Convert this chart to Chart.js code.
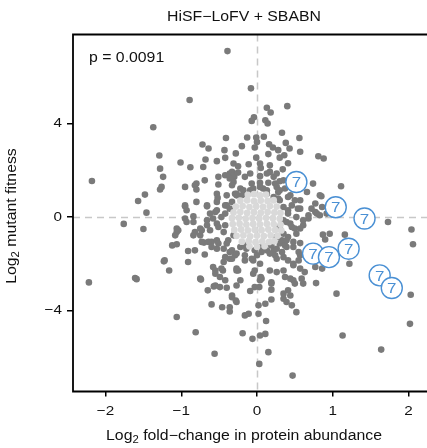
<!DOCTYPE html>
<html><head><meta charset="utf-8">
<script src="https://cdn.jsdelivr.net/npm/chart.js@4/dist/chart.umd.min.js"></script>
<style>html,body{margin:0;padding:0;background:#fff}#wrap{width:427px;height:448px;position:relative}</style>
</head><body><div id="wrap"><canvas id="c" width="427" height="448"></canvas></div>
<script>
const chartTitle = 'HiSF\u2212LoFV + SBABN';
const pText = 'p = 0.0091';
const xTitleMain = ' fold\u2212change in protein abundance';
const yTitleMain = ' mutant fitness';
const xTicks = [-2, -1, 0, 1, 2];
const xTickLabels = ['\u22122', '\u22121', '0', '1', '2'];
const yTicks = [-4, 0, 4];
const yTickLabels = ['\u22124', '0', '4'];
const markerLabel = '7';

// labelled (circled "7") genes
const markerPoints = [[0.52,1.50],[1.04,0.42],[1.42,-0.06],[0.74,-1.56],[0.95,-1.71],[1.21,-1.35],[1.62,-2.49],[1.78,-3.03]];

// non-significant genes (light grey cloud)
const nsPoints = [
[-0.12,0.95],[-0.04,0.98],[0.04,0.93],[0.12,0.96],
[-0.22,0.70],[-0.13,0.72],[-0.04,0.68],[0.05,0.71],[0.14,0.69],[0.22,0.72],
[-0.28,0.45],[-0.19,0.47],[-0.10,0.43],[-0.01,0.46],[0.08,0.44],[0.17,0.47],[0.26,0.45],
[-0.31,0.20],[-0.22,0.22],[-0.13,0.18],[-0.04,0.21],[0.05,0.19],[0.14,0.22],[0.23,0.20],[0.31,0.18],
[-0.33,-0.05],[-0.24,-0.03],[-0.15,-0.07],[-0.06,-0.04],[0.03,-0.06],[0.12,-0.03],[0.21,-0.05],[0.30,-0.07],
[-0.32,-0.30],[-0.23,-0.28],[-0.14,-0.32],[-0.05,-0.29],[0.04,-0.31],[0.13,-0.28],[0.22,-0.30],[0.31,-0.32],
[-0.30,-0.55],[-0.21,-0.53],[-0.12,-0.57],[-0.03,-0.54],[0.06,-0.56],[0.15,-0.53],[0.24,-0.55],[0.32,-0.57],
[-0.27,-0.80],[-0.18,-0.78],[-0.09,-0.82],[0.00,-0.79],[0.09,-0.81],[0.18,-0.78],[0.27,-0.80],
[-0.20,-1.05],[-0.11,-1.03],[-0.02,-1.07],[0.07,-1.04],[0.16,-1.06],[0.23,-1.03],
[-0.10,-1.25],[0.00,-1.27],[0.10,-1.24]
];

// significant genes (dark grey)
const sigPoints = [
[-0.39,7.09],[-0.89,5.0],[-1.37,3.84],[-0.41,3.38],[-0.72,3.10],[-0.64,2.93],[-1.29,2.63],[-0.43,2.86],[-1.01,2.33],[-0.88,2.13],[-0.68,2.46],[-0.71,2.14],[-0.53,2.39],[-0.42,2.53],[-1.28,2.07],[-1.24,1.72],[-2.18,1.54],[-0.51,1.72],[-0.36,1.86],[-0.31,2.29],[-1.28,1.18],[-1.26,1.29],[-1.48,0.96],[-1.57,0.69],[-0.95,1.29],[-0.82,1.36],[-0.80,1.18],[-0.53,1.0],[-0.40,0.93],[-0.80,0.65],[-0.66,0.50],[-0.95,0.5],[-0.53,0.65],[-0.29,1.0],[-0.31,1.5],
[-1.46,0.19],[-1.76,-0.29],[-1.50,-0.51],[-2.22,-2.79],[-1.61,-2.60],[-1.59,-2.65],[-0.95,0.46],[-0.93,0.29],[-0.66,0.46],[-0.84,0.03],[-0.95,-0.06],[-0.93,-0.21],[-0.55,0.22],[-0.42,0.5],[-0.58,-0.06],[-0.53,-0.28],[-0.66,-0.35],[-0.75,-0.49],[-0.82,-0.64],[-0.84,-0.78],[-1.06,-0.64],[-1.08,-0.78],[-1.12,-1.21],[-1.06,-1.16],[-0.91,-1.45],[-0.82,-1.42],[-0.91,-1.92],[-1.23,-1.89],[-1.16,-2.28],[-0.70,-1.09],[-0.69,-1.60],[-0.60,-1.06],[-0.53,-1.35],[-0.58,-2.13],[-0.55,-2.28],[-0.45,-2.28],[-0.49,-2.56],[-0.42,-2.70],[-0.74,-2.67],[-0.65,-3.13],[-0.57,-2.96],[-0.40,-3.02],[-0.33,-3.42],[-0.27,-3.63],[-0.60,-3.73],[-0.46,-3.85],[-0.36,-4.03],[-1.06,-4.27],[-0.81,-4.92],[-0.56,-5.84],[-0.38,-0.99],[-0.31,-0.78],[-0.40,-1.13],[-0.44,-0.64],[-0.33,-1.42],[-0.27,-1.56],[-0.36,-1.78],[-0.44,-1.92],[-0.27,-2.28],[-0.75,-0.78],[-0.53,-0.99],
[-0.19,-4.96],[-0.06,-5.20],[0.04,-5.06],[0.11,-4.99],[1.13,-5.06],[0.15,-5.77],[0.03,-6.27],[0.47,-6.77],[1.64,-5.66],
[-0.08,5.50],[0.40,4.74],[0.13,4.67],[0.18,4.47],[-0.04,4.26],[-0.07,4.11],[0.11,4.14],[0.14,4.0],[0.33,3.60],[0.56,3.38],[-0.13,3.40],[-0.01,3.40],[0.09,3.43],[0.0,3.21],[0.16,3.11],[0.38,3.17],[-0.20,3.03],[-0.03,2.97],[0.21,2.97],[0.28,2.86],[0.43,2.93],[-0.28,2.72],[0.15,2.69],[0.36,2.64],[0.57,2.79],[0.30,2.54],[0.81,2.60],[0.88,2.50],[-0.01,2.54],[-0.11,2.26],[0.04,2.29],[0.05,2.10],[-0.25,2.17],[0.34,2.04],[0.17,1.93],[-0.33,1.93],[0.22,1.72],[0.04,1.75],[-0.09,1.86],[-0.30,1.72],[0.35,1.57],[0.74,1.43],[1.11,1.32],[0.66,1.07],[0.85,0.89],[0.57,0.72],[-0.22,1.22],[-0.09,1.15],[0.08,1.22],[0.26,1.29],[0.13,1.0],[0.44,0.93],[0.30,0.72],[0.46,0.50],[0.77,0.58],[0.86,0.43],
[1.73,-0.21],[2.04,-0.53],[2.06,-1.16],[2.03,-3.32],[2.02,-4.56],[1.05,-3.27],[0.78,-2.82],[1.16,-0.75],[1.22,-1.99],[0.96,-0.71],[0.87,-0.75],[0.90,-0.96],[0.57,-1.11],[0.77,-2.13],[0.86,-2.20],[0.48,-1.99],[0.57,-2.20],[0.48,-2.70],[0.59,-2.63],[0.61,-2.84],[0.41,-3.13],[0.44,-3.35],[0.35,-3.49],[0.46,-3.77],[0.52,-4.06],[0.19,-2.78],[0.19,-3.10],[0.19,-3.52],[0.35,-2.28],[0.26,-2.35],[0.17,-2.28],[0.06,-2.63],[0.03,-2.99],[0.02,-3.77],[0.11,-3.70],[0.02,-4.13],[0.12,-4.44],[-0.16,-4.20],[-0.11,-4.13],[-0.28,-3.56],[-0.27,-2.92],[-0.22,-2.70],[-0.09,-3.16],[-0.03,-2.99],[-0.03,-2.28],[-0.25,-2.28],[-0.16,-1.85],[-0.05,-1.85],[0.48,-1.28],[0.55,-1.49],[0.35,-1.71],[0.26,-1.78],[0.41,-0.85],[0.35,-0.71],[0.52,-0.71],[0.83,0.08],[0.92,0.15],[0.68,-0.06],[0.77,0.22],[0.41,0.29],[0.52,0.0],[0.57,0.36],[0.35,-0.14],[0.44,-0.28],[0.30,-0.42],[0.61,-0.35],[0.50,-0.49],[0.26,-0.85],[0.17,-1.13],[0.06,-1.28],[-0.03,-1.42],[-0.14,-1.35],[-0.29,-1.63],[0.22,-1.42],[0.30,-1.13],
[-1.04,-0.56],[-0.73,-1.06],[-0.64,-1.06],[-0.60,-1.28],[-0.51,-1.13],[-0.44,-1.35],[-0.36,-1.49],[-0.42,-1.71],[-0.33,-1.78],[-0.47,-2.20],[-0.55,-2.42],[-0.55,-2.92],[-0.49,-2.99],[-0.36,-3.85],[-0.75,-2.63],
[-0.16,-1.63],[-0.07,-1.78],[0.0,-1.63],[0.06,-1.49],[0.13,-1.42],[0.24,-1.63],[0.33,-1.49],[0.39,-1.28],[0.48,-1.06],[0.41,-1.85],[0.55,-1.85],[0.48,-2.06],[0.04,-1.99],[-0.05,-2.42],[0.05,-2.56],[0.04,-2.70],[0.19,-2.84],[-0.27,-2.20],[-0.33,-3.35],[0.39,-3.63],[0.35,-3.27],[0.37,-2.56],[0.44,-2.63],[0.50,-2.84],[0.63,-2.35],[0.19,-1.21],[0.33,-0.99],[0.37,-1.21],[0.57,-1.63],
[-0.42,1.79],[-0.31,1.79],[-0.25,1.90],[-0.16,1.72],[-0.51,1.39],[-0.33,1.36],[-0.07,1.43],[0.04,1.47],[0.15,1.47],[0.24,1.43],[0.30,1.53],[0.28,1.07],[0.37,1.22],[0.28,0.79],[0.41,0.86],[0.50,0.72],[0.54,0.36],[-0.52,0.82],[-0.27,0.93],[-0.20,0.93],[-0.07,1.07],[-0.40,0.50],[-0.42,0.15],[-0.62,0.15],[0.83,0.93],[0.72,0.36],[0.79,0.15],[0.68,0.08],
[-0.53,0.29],[-0.47,0.0],[-0.42,-0.35],[-0.51,-0.42],[-0.66,-0.14],[-0.84,-0.21],[-1.06,-0.49],[-1.22,-1.85],[-0.73,-0.56],[-0.62,-0.56],[-0.22,-1.28],[-0.16,-1.21],[0.17,-1.56],[0.26,-1.35],[0.39,-0.99],[0.35,0.43],[0.41,0.15],[0.39,-0.21],[0.46,-0.42],[0.57,-0.49],[0.61,-0.14],[0.30,1.15],[0.22,0.86],[0.13,1.15],[0.04,1.29],[-0.05,1.22],[-0.18,1.15],[-0.27,1.0],[-0.33,0.65],[-0.36,0.36],
[0.13,1.86],[0.17,2.21],[0.26,1.86],[0.41,2.30],[-0.36,1.65],[-0.69,1.57],[-0.80,1.43]
];

const FONT = '"Liberation Sans", Arial, sans-serif';
const BLUE = '#4a90d4';
const SX = 1.13; // horizontal text stretch seen in the reference rendering
const toXY = arr => arr.map(p => ({x: p[0], y: p[1]}));

function stretchedText(ctx, txt, x, y, size, align) {
  ctx.save();
  ctx.translate(x, y);
  ctx.scale(SX, 1);
  ctx.font = size + 'px ' + FONT;
  ctx.textAlign = align;
  ctx.textBaseline = 'middle';
  ctx.fillText(txt, 0, 0);
  ctx.restore();
}

function drawRuns(ctx, runs, cx, cy) {
  ctx.save();
  ctx.translate(cx, cy);
  ctx.scale(SX, 1);
  let total = 0;
  runs.forEach(r => { ctx.font = (r[1] ? '10px ' : '14px ') + FONT; total += ctx.measureText(r[0]).width; });
  let x = -total / 2;
  ctx.textBaseline = 'middle';
  ctx.textAlign = 'left';
  runs.forEach(r => {
    ctx.font = (r[1] ? '10px ' : '14px ') + FONT;
    ctx.fillText(r[0], x, r[1] ? 4.5 : 0);
    x += ctx.measureText(r[0]).width;
  });
  ctx.restore();
}

const decor = {
  id: 'decor',
  beforeDatasetsDraw(chart) {
    const {ctx, chartArea: a, scales: {x, y}} = chart;
    ctx.save();
    ctx.strokeStyle = '#c8c8c8';
    ctx.lineWidth = 1.5;
    ctx.setLineDash([7, 5]);
    const x0 = Math.round(x.getPixelForValue(0)) + 0.5;
    const y0 = Math.round(y.getPixelForValue(0)) + 0.5;
    ctx.beginPath(); ctx.moveTo(x0, a.top); ctx.lineTo(x0, a.bottom); ctx.stroke();
    ctx.beginPath(); ctx.moveTo(a.left, y0); ctx.lineTo(a.right, y0); ctx.stroke();
    ctx.restore();
  },
  afterDatasetsDraw(chart) {
    const {ctx, chartArea: a, scales: {x, y}} = chart;
    ctx.save();
    const meta = chart.getDatasetMeta(0);
    ctx.fillStyle = BLUE;
    meta.data.forEach(el => { stretchedText(ctx, markerLabel, el.x, el.y + 1, 15, 'center'); });
    // frame
    ctx.strokeStyle = '#000';
    ctx.lineWidth = 1.8;
    ctx.beginPath();
    ctx.moveTo(a.right + 2, a.top); ctx.lineTo(a.left, a.top); ctx.lineTo(a.left, a.bottom); ctx.lineTo(a.right + 2, a.bottom);
    ctx.stroke();
    // texts
    ctx.fillStyle = '#111';
    stretchedText(ctx, chartTitle, 244, 17, 14, 'center');
    stretchedText(ctx, pText, 89, 58, 14, 'left');
    xTicks.forEach((v, i) => stretchedText(ctx, xTickLabels[i], x.getPixelForValue(v), 411, 13.5, 'center'));
    yTicks.forEach((v, i) => stretchedText(ctx, yTickLabels[i], 62, y.getPixelForValue(v), 13.5, 'right'));
    drawRuns(ctx, [['Log', false], ['2', true], [xTitleMain, false]], 244, 436);
    ctx.translate(12, 216);
    ctx.rotate(-Math.PI / 2);
    drawRuns(ctx, [['Log', false], ['2', true], [yTitleMain, false]], 0, 0);
    ctx.restore();
  }
};

new Chart(document.getElementById('c'), {
  type: 'scatter',
  data: {
    datasets: [
      {label: 'labelled', data: toXY(markerPoints), pointRadius: 10.5, pointBackgroundColor: '#fff', pointBorderColor: BLUE, pointBorderWidth: 1.4, order: 0},
      {label: 'ns', data: toXY(nsPoints), pointRadius: 3.4, pointBackgroundColor: '#d9d9d9', pointBorderWidth: 0, order: 1},
      {label: 'sig', data: toXY(sigPoints), pointRadius: 3.3, pointBackgroundColor: '#7a7a7a', pointBorderWidth: 0, order: 2}
    ]
  },
  options: {
    responsive: false, animation: false, events: [],
    layout: {autoPadding: false, padding: {top: 34.5, left: 0, right: 0, bottom: 0}},
    plugins: {legend: {display: false}, title: {display: false}, tooltip: {enabled: false}},
    scales: {
      x: {
        type: 'linear', min: -2.43, max: 2.245,
        afterBuildTicks: s => { s.ticks = xTicks.map(v => ({value: v})); },
        afterFit: s => { s.height = 56.5; },
        grid: {display: true, drawOnChartArea: false, drawTicks: true, tickLength: 5, color: '#000', lineWidth: 1.5},
        border: {display: false},
        ticks: {padding: 7, color: 'rgba(0,0,0,0)', font: {family: FONT, size: 13}, maxRotation: 0, callback: (v, i) => xTickLabels[i]}
      },
      y: {
        type: 'linear', min: -7.45, max: 7.8,
        afterBuildTicks: s => { s.ticks = yTicks.map(v => ({value: v})); },
        afterFit: s => { s.width = 73; },
        grid: {display: true, drawOnChartArea: false, drawTicks: true, tickLength: 6, color: '#000', lineWidth: 1.5},
        border: {display: false},
        ticks: {padding: 4, color: 'rgba(0,0,0,0)', font: {family: FONT, size: 13}, callback: (v, i) => yTickLabels[i]}
      }
    }
  },
  plugins: [decor]
});
</script></body></html>
